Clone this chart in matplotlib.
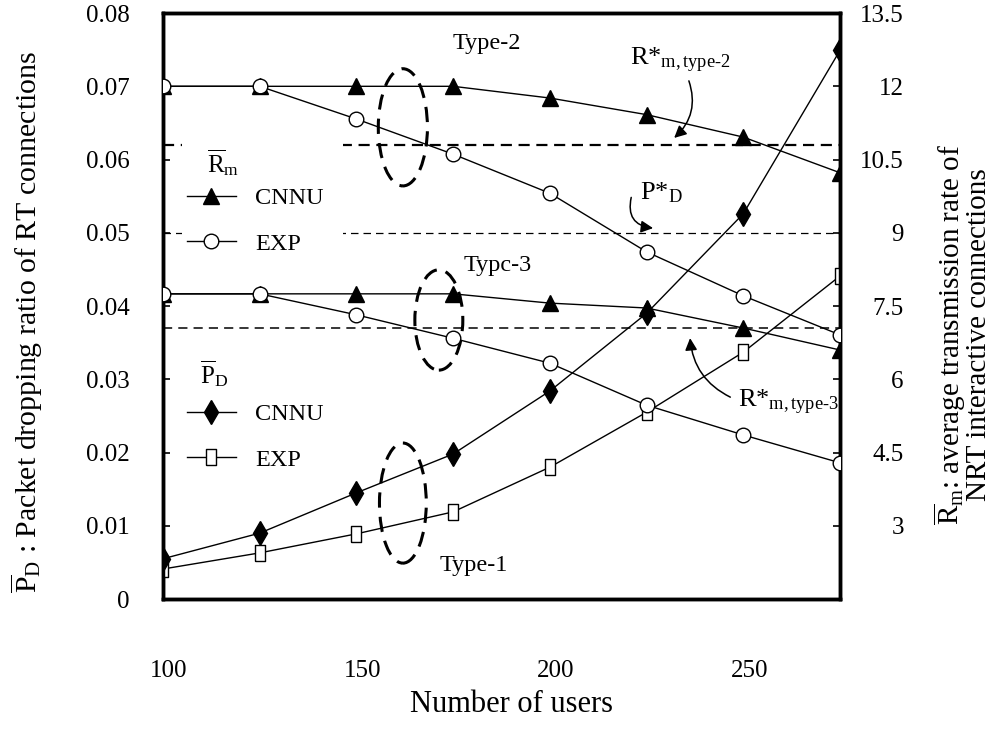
import matplotlib
matplotlib.use("Agg")
import matplotlib.pyplot as plt
import matplotlib.transforms as mtrans
from matplotlib.patches import Ellipse, Rectangle

plt.rcParams['font.family'] = ['Liberation Serif', 'DejaVu Serif']
plt.rcParams['mathtext.fontset'] = 'custom'
plt.rcParams['mathtext.rm'] = 'Liberation Serif'
plt.rcParams['mathtext.it'] = 'Liberation Serif:italic'

# ---------------- data ----------------
users = [100, 125, 150, 175, 200, 225, 250, 275]
rm_type2_cnnu = [12.0, 12.0, 12.0, 12.0, 11.76, 11.42, 10.96, 10.23]
rm_type2_exp = [12.0, 12.0, 11.33, 10.61, 9.81, 8.61, 7.71, 6.91]
rm_type3_cnnu = [7.75, 7.75, 7.75, 7.75, 7.56, 7.46, 7.05, 6.60]
rm_type3_exp = [7.75, 7.75, 7.32, 6.84, 6.33, 5.47, 4.86, 4.29]
pd_type1_cnnu = [0.0055, 0.0090, 0.0145, 0.0198, 0.0284, 0.0390, 0.0526, 0.0749]
pd_type1_exp = [0.0041, 0.0063, 0.0089, 0.0119, 0.0180, 0.0255, 0.0337, 0.0441]
rm_target_type2 = 10.8
pd_target = 0.05
rm_target_type3 = 7.05

x_ticks = [100, 150, 200, 250]
left_ticks = [0, 0.01, 0.02, 0.03, 0.04, 0.05, 0.06, 0.07, 0.08]
left_labels = ['0', '0.01', '0.02', '0.03', '0.04', '0.05', '0.06', '0.07', '0.08']
right_ticks = [3, 4.5, 6, 7.5, 9, 10.5, 12, 13.5]
right_labels = ['3', '4.5', '6', '7.5', '9', '10.5', '12', '13.5']

# ---------------- figure ----------------
fig = plt.figure(figsize=(10.02, 7.38), dpi=100)
ax = fig.add_axes([0.1627, 0.1883, 0.6756, 0.7940])
ax2 = ax.twinx()

lw = 1.0
rect_marker = [(-1, -1.5), (1, -1.5), (1, 1.5), (-1, 1.5), (-1, -1.5)]
tri = dict(marker='^', ms=11, mfc='black', mec='black', color='black', lw=lw)
circ = dict(marker='o', ms=10.5, mfc='white', mec='black', mew=1.0, color='black', lw=lw)
dia = dict(marker='d', ms=12.5, mfc='black', mec='black', color='black', lw=lw)
sq = dict(marker=rect_marker, ms=11.5, mfc='white', mec='black', mew=1.0, color='black', lw=lw)

# Type-1 on left axis
ax.plot(users, pd_type1_exp, zorder=3, **sq)
ax.plot(users, pd_type1_cnnu, zorder=3, **dia)
ax.axhline(pd_target, color='black', lw=0.9, ls=(0, (6, 4)), zorder=1)

# Type-2 / Type-3 on right axis
ax2.plot(users, rm_type2_cnnu, zorder=3, **tri)
ax2.plot(users, rm_type2_exp, zorder=3, **circ)
ax2.plot(users, rm_type3_cnnu, zorder=3, **tri)
ax2.plot(users, rm_type3_exp, zorder=3, **circ)
ax2.axhline(rm_target_type2, color='black', lw=1.6, ls=(0, (5, 3)), zorder=1)
ax2.axhline(rm_target_type3, color='black', lw=1.1, ls=(0, (6, 4)), zorder=1)

ax.set_xlim(100, 275)
ax.set_ylim(0, 0.08)
ax2.set_ylim(1.5, 13.5)

ax.set_xticks(x_ticks)
ax.set_xticklabels([str(v) for v in x_ticks])
ax.set_yticks(left_ticks)
ax.set_yticklabels(left_labels)
ax2.set_yticks(right_ticks)
ax2.set_yticklabels(right_labels)

ax.tick_params(axis='x', length=0, pad=44, labelsize=18)
ax.tick_params(axis='y', direction='in', length=5, width=1.2, pad=24, labelsize=18)
ax2.tick_params(axis='y', direction='in', length=5, width=1.2, pad=46, labelsize=18)
for t in ax2.get_yticklabels():
    t.set_horizontalalignment('right')
shift = mtrans.ScaledTranslation(6 / 100, 0, fig.dpi_scale_trans)
for t in ax.get_xticklabels():
    t.set_transform(t.get_transform() + shift)

for a in (ax, ax2):
    for s in a.spines.values():
        s.set_linewidth(2.5)

ax.set_xlabel('Number of users', fontsize=22)
ax.xaxis.set_label_coords(0.515, -0.155)
ax.set_ylabel(r'$\overline{\mathrm{P}}_{\mathrm{D}}$ : Packet dropping ratio of RT connections', fontsize=21.5)
ax.yaxis.set_label_coords(-0.175, 0.473)
ax2.set_ylabel(r'$\overline{\mathrm{R}}_{\mathrm{m}}$: average transmission rate of' + '\n' + 'NRT interactive connections',
               fontsize=21, rotation=90, linespacing=0.88)
ax2.yaxis.set_label_coords(1.136, 0.451)

# dashed ellipses
ell_style = dict(fill=False, ec='black', lw=2.2, ls=(0, (5, 3)), zorder=4)
ax.add_patch(Ellipse((162.0, 0.0644), 12.7, 0.016, **ell_style))
ax.add_patch(Ellipse((171.3, 0.0381), 12.4, 0.0137, **ell_style))
ax.add_patch(Ellipse((162.0, 0.0131), 12.1, 0.0164, **ell_style))

# annotations
ax.text(183.8, 0.0759, 'Type-2', fontsize=17.5, ha='center', va='center')
ax.text(186.6, 0.0456, 'Typc-3', fontsize=17.5, ha='center', va='center')
ax.text(180.4, 0.0046, 'Type-1', fontsize=17.5, ha='center', va='center')

ax.text(220.7, 0.0729, r'R*$_{\mathrm{m,type}\text{-}\mathrm{2}}$', fontsize=19, ha='left', va='baseline')
ax.text(223.3, 0.0545, r'P*$_{\mathrm{D}}$', fontsize=19, ha='left', va='baseline')
ax.text(248.6, 0.0261, r'R*$_{\mathrm{m,type}\text{-}\mathrm{3}}$', fontsize=19, ha='left', va='baseline')

arrow = dict(arrowstyle='-|>', color='black', lw=1.1, mutation_scale=18)
ax.annotate('', xy=(231.6, 0.0627), xytext=(235.7, 0.0711),
            arrowprops=dict(connectionstyle='arc3,rad=-0.35', **arrow))
ax.annotate('', xy=(227.4, 0.0506), xytext=(221.2, 0.0552),
            arrowprops=dict(connectionstyle='arc3,rad=0.6', **arrow))
ax.annotate('', xy=(236.2, 0.0360), xytext=(247.3, 0.0274),
            arrowprops=dict(connectionstyle='arc3,rad=-0.3', **arrow))

# white block behind the upper legend (hides the dashed target lines there)
ax2.add_patch(Rectangle((0.028, 0.578), 0.238, 0.209, transform=ax2.transAxes,
                        facecolor='white', edgecolor='none', zorder=2))

# legend titles
fig.text(207 / 1002, 1 - 163 / 738, r'$\overline{\mathrm{R}}_{\mathrm{m}}$', fontsize=18,
         ha='left', va='center')
fig.text(200 / 1002, 1 - 374 / 738, r'$\overline{\mathrm{P}}_{\mathrm{D}}$', fontsize=18,
         ha='left', va='center')

# legends
h_tri, = ax2.plot([], [], **tri)
h_circ, = ax2.plot([], [], **circ)
h_dia, = ax2.plot([], [], **dia)
h_sq, = ax2.plot([], [], **sq)

leg_kw = dict(loc='center left', bbox_transform=fig.transFigure, fontsize=17.5,
              handlelength=2.0, handletextpad=0.8, labelspacing=0.95,
              borderpad=0.0, borderaxespad=0.0, frameon=False)
leg1 = ax2.legend([h_tri, h_circ], ['CNNU', 'EXP'],
                  bbox_to_anchor=(187 / 1002, 1 - 221 / 738), **leg_kw)
ax2.add_artist(leg1)
leg2 = ax2.legend([h_dia, h_sq], ['CNNU', 'EXP'],
                  bbox_to_anchor=(187 / 1002, 1 - 437 / 738), **leg_kw)

fig.savefig('out.png', dpi=100)
